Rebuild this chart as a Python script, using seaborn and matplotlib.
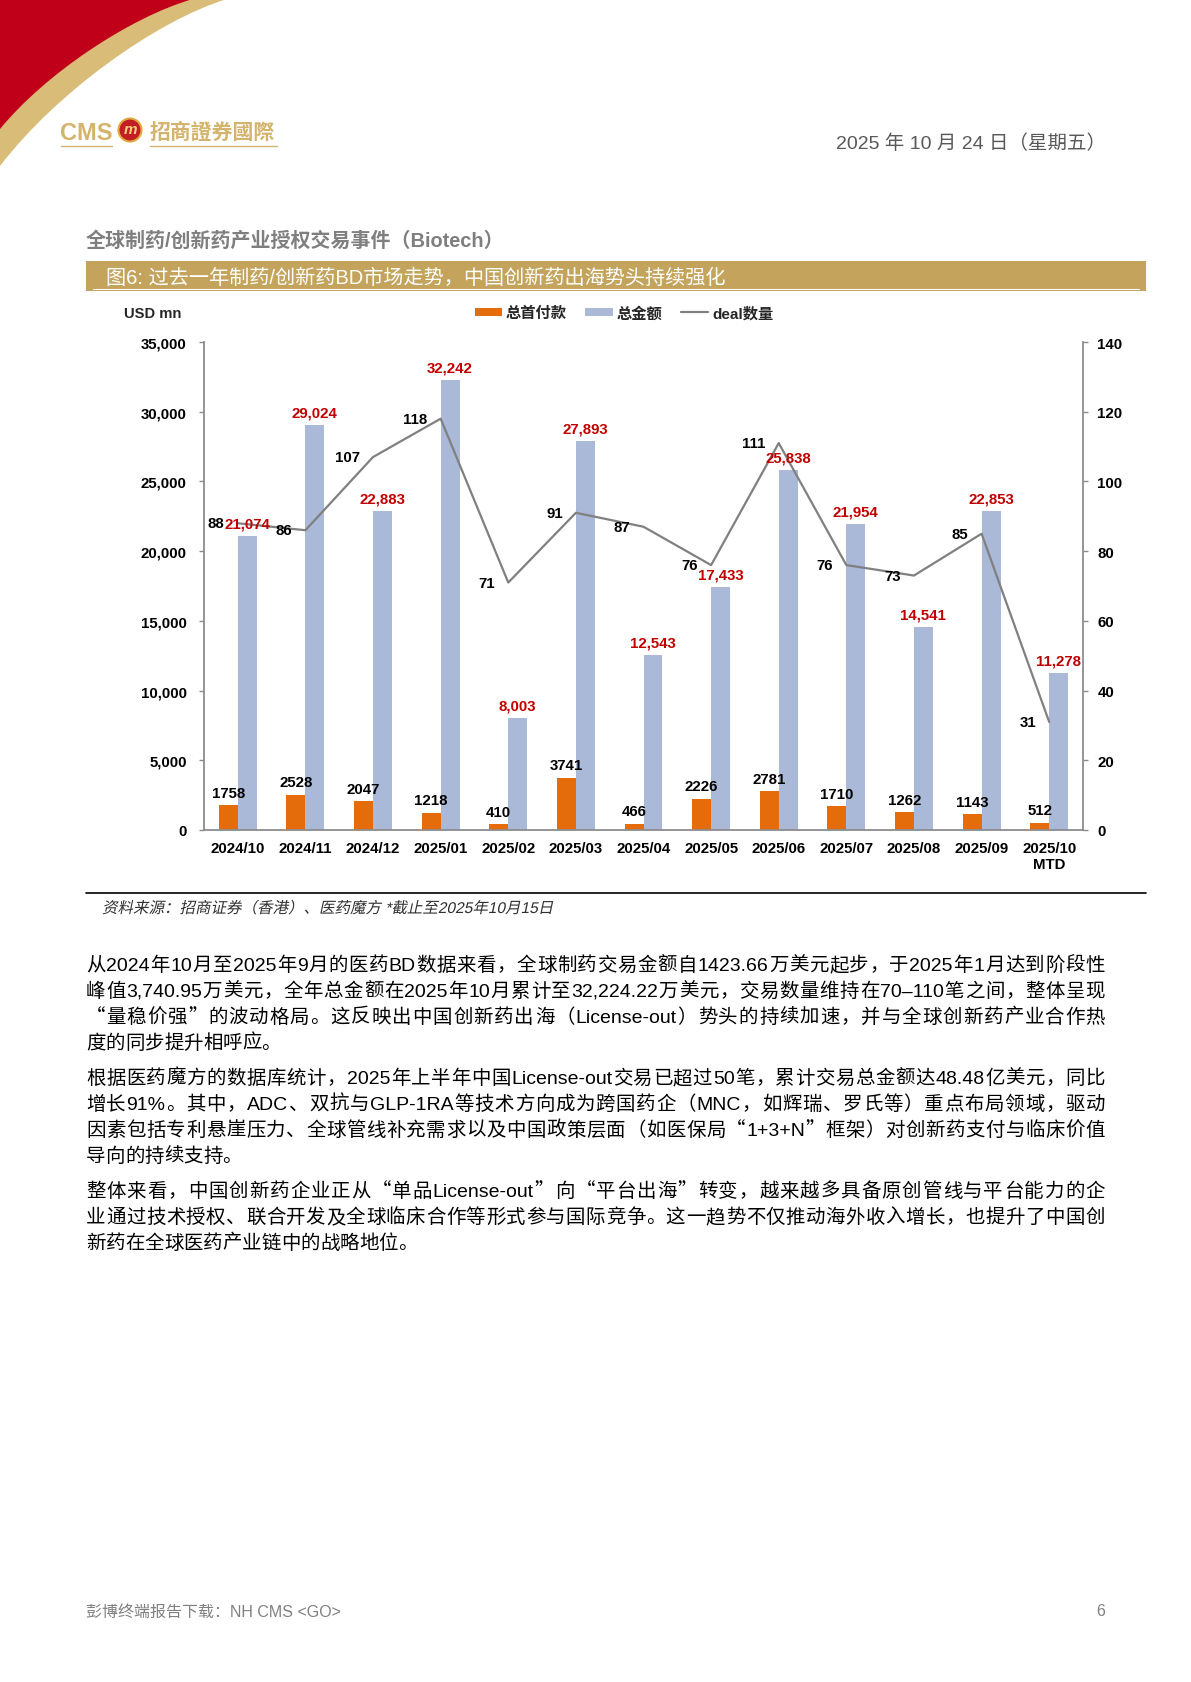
from pathlib import Path

import matplotlib

matplotlib.use("Agg")

import matplotlib.pyplot as plt
import numpy as np
import pandas as pd
import seaborn as sns
from matplotlib.font_manager import FontProperties
from matplotlib.lines import Line2D
from matplotlib.patches import Circle, PathPatch, Rectangle
from matplotlib.path import Path as MPath
from matplotlib.textpath import TextPath
from matplotlib.ticker import StrMethodFormatter
from matplotlib.transforms import Affine2D

OUTPUT_PATH = Path("out.png")
W, H = 1191, 1683

months = [
    "2024/10", "2024/11", "2024/12", "2025/01", "2025/02", "2025/03", "2025/04",
    "2025/05", "2025/06", "2025/07", "2025/08", "2025/09", "2025/10\nMTD",
]
upfront = [1758, 2528, 2047, 1218, 410, 3741, 466, 2226, 2781, 1710, 1262, 1143, 512]
total = [21074, 29024, 22883, 32242, 8003, 27893, 12543, 17433, 25838, 21954, 14541, 22853, 11278]
deals = [88, 86, 107, 118, 71, 91, 87, 76, 111, 76, 73, 85, 31]
series_names = ["总首付款", "总金额", "deal数量"]

paragraphs = [
    [
        "从2024年10月至2025年9月的医药BD数据来看，全球制药交易金额自1423.66万美元起步，于2025年1月达到阶段性",
        "峰值3,740.95万美元，全年总金额在2025年10月累计至32,224.22万美元，交易数量维持在70–110笔之间，整体呈现",
        "“量稳价强”的波动格局。这反映出中国创新药出海（License-out）势头的持续加速，并与全球创新药产业合作热",
        "度的同步提升相呼应。",
    ],
    [
        "根据医药魔方的数据库统计，2025年上半年中国License-out交易已超过50笔，累计交易总金额达48.48亿美元，同比",
        "增长91%。其中，ADC、双抗与GLP-1RA等技术方向成为跨国药企（MNC，如辉瑞、罗氏等）重点布局领域，驱动",
        "因素包括专利悬崖压力、全球管线补充需求以及中国政策层面（如医保局“1+3+N”框架）对创新药支付与临床价值",
        "导向的持续支持。",
    ],
    [
        "整体来看，中国创新药企业正从“单品License-out”向“平台出海”转变，越来越多具备原创管线与平台能力的企",
        "业通过技术授权、联合开发及全球临床合作等形式参与国际竞争。这一趋势不仅推动海外收入增长，也提升了中国创",
        "新药在全球医药产业链中的战略地位。",
    ],
]
source_note = "资料来源：招商证券（香港）、医药魔方 *截止至2025年10月15日"

ORANGE = "#E46C0A"
BLUE = "#A9B9D7"
LINE_GRAY = "#808080"
RED = "#C00000"
GOLD = "#D4B36C"
SPINE = "#8C8C8C"
LATIN = ["Liberation Sans"]
CJK = ["Noto Sans CJK SC"]
BODY_SIZE = 14


def fx(x):
    return x / W


def fy(y):
    return 1 - y / H


def split_units(line):
    # latin runs stay together, every CJK glyph is its own unit
    units, buf = [], ""
    for ch in line:
        if ord(ch) < 128 or ch == "–":
            buf += ch
        else:
            if buf:
                units.append(buf)
                buf = ""
            units.append(ch)
    if buf:
        units.append(buf)
    return units


def draw_paragraphs(fig, page):
    renderer = fig.canvas.get_renderer()
    cache = {}

    def width(s, family):
        key = (s, family[0])
        if key not in cache:
            t = page.text(0, 0, s, fontsize=BODY_SIZE, family=family)
            cache[key] = t.get_window_extent(renderer).width
            t.remove()
        return cache[key]

    def advance(s, family):
        return width("|" + s + "|", family) - width("||", family)

    left, right, step = 86, 1105, 25.9
    starts = [965, 1078, 1191]
    for y0, para in zip(starts, paragraphs):
        for i, line in enumerate(para):
            units = split_units(line)
            fams = [LATIN if (ord(u[0]) < 128 or u[0] == "–") else CJK for u in units]
            advs = [advance(u, f) for u, f in zip(units, fams)]
            last = i == len(para) - 1
            gap = 0 if last else (right - left - sum(advs)) / (len(units) - 1)
            x = left
            y = y0 + i * step + 6
            for u, f, a in zip(units, fams, advs):
                page.text(x, y, u, fontsize=BODY_SIZE, family=f, color="black",
                          ha="left", va="baseline")
                x += a + gap


def draw_oblique(page, x, y, text, size_px, color):
    # slanted text like the word-processor fake italic
    x0 = x
    for unit in split_units(text):
        fam = LATIN if (ord(unit[0]) < 128 or unit[0] == "–") else CJK
        path = TextPath((0, 0), unit, size=size_px, prop=FontProperties(family=fam))
        adv = TextPath((0, 0), "|" + unit + "|", size=size_px, prop=FontProperties(family=fam))
        bars = TextPath((0, 0), "||", size=size_px, prop=FontProperties(family=fam))
        step = (adv.get_extents().width - bars.get_extents().width)
        tr = Affine2D().skew_deg(12, 0).scale(1, -1).translate(x0, y) + page.transData
        page.add_patch(PathPatch(path, facecolor=color, edgecolor="none", transform=tr))
        x0 += step


def main() -> None:
    sns.set_theme(style="white")
    plt.rcParams["font.family"] = ["Liberation Sans", "Noto Sans CJK SC", "DejaVu Sans"]

    fig = plt.figure(figsize=(W / 100, H / 100), dpi=100)
    page = fig.add_axes([0, 0, 1, 1])
    page.set_xlim(0, W)
    page.set_ylim(H, 0)
    page.axis("off")

    # corner swoosh
    gold_path = MPath(
        [(0, 0), (227, 0), (155, 22), (55, 95), (0, 167), (0, 0)],
        [MPath.MOVETO, MPath.LINETO, MPath.CURVE4, MPath.CURVE4, MPath.CURVE4, MPath.CLOSEPOLY],
    )
    red_path = MPath(
        [(0, 0), (193, 0), (130, 18), (45, 75), (0, 130), (0, 0)],
        [MPath.MOVETO, MPath.LINETO, MPath.CURVE4, MPath.CURVE4, MPath.CURVE4, MPath.CLOSEPOLY],
    )
    page.add_patch(PathPatch(gold_path, facecolor="#D9BC78", edgecolor="none"))
    page.add_patch(PathPatch(red_path, facecolor="#C00018", edgecolor="none"))

    # logo
    page.text(60, 133, "CMS", fontsize=17, fontweight="bold", color=GOLD, va="center", ha="left")
    page.plot([61, 112], [147, 147], color=GOLD, lw=1)
    page.add_patch(Circle((130, 131), 11.5, facecolor="#C41E24", edgecolor="#E0A93F", lw=1.5))
    page.text(130, 130, "m", fontsize=11, fontweight="bold", style="italic", color="#F6D27A",
              ha="center", va="center")
    page.text(150, 132, "招商證券國際", fontsize=15, fontweight="bold", color=GOLD,
              family=["Noto Sans CJK TC"], va="center", ha="left")
    page.plot([150, 277], [147, 147], color=GOLD, lw=1)

    page.text(1106, 144, "2025 年 10 月 24 日（星期五）", fontsize=14, color="#595959",
              ha="right", va="center")

    page.text(86, 241, "全球制药/创新药产业授权交易事件（Biotech）", fontsize=14.4,
              fontweight="bold", color="#7F7F7F", ha="left", va="center")

    page.add_patch(Rectangle((86, 262), 1060, 30, facecolor="#C4A45C", edgecolor="none"))
    page.plot([93, 1139], [290, 290], color="white", lw=0.8)
    page.text(106, 278, "图6: 过去一年制药/创新药BD市场走势，中国创新药出海势头持续强化",
              fontsize=14.5, color="white", ha="left", va="center")

    # chart
    ax = fig.add_axes([fx(204), fy(831), fx(1083) - fx(204), (831 - 343) / H])
    bars = pd.DataFrame({
        "month": months * 2,
        "series": [series_names[0]] * len(months) + [series_names[1]] * len(months),
        "value": upfront + total,
    })
    sns.barplot(
        data=bars, x="month", y="value", hue="series", hue_order=series_names[:2],
        palette={series_names[0]: ORANGE, series_names[1]: BLUE},
        width=0.56, gap=0, saturation=1, linewidth=0, legend=False, ax=ax,
    )
    ax.set_ylim(0, 35000)
    ax.set_yticks(np.arange(0, 35001, 5000))
    ax.yaxis.set_major_formatter(StrMethodFormatter("{x:,.0f}"))
    ax.set_xlabel("")
    ax.set_ylabel("")

    ax2 = ax.twinx()
    line_df = pd.DataFrame({"pos": np.arange(len(months)), "deals": deals})
    sns.lineplot(data=line_df, x="pos", y="deals", color=LINE_GRAY, linewidth=1.6, ax=ax2)
    ax2.set_ylim(0, 140)
    ax2.set_yticks(np.arange(0, 141, 20))
    ax2.set_ylabel("")
    ax2.set_xlabel("")
    ax.set_xlim(-0.5, len(months) - 0.5)

    for a in (ax, ax2):
        for side in ("top", "left", "right", "bottom"):
            a.spines[side].set_visible(False)
    for side in ("left", "bottom"):
        ax.spines[side].set_visible(True)
        ax.spines[side].set_color(SPINE)
        ax.spines[side].set_linewidth(1.3)
    ax2.spines["right"].set_visible(True)
    ax2.spines["right"].set_color(SPINE)
    ax2.spines["right"].set_linewidth(1.3)

    ax.set_xticks(np.arange(len(months)))
    ax.set_xticklabels(months)
    ax.set_xticks(np.arange(-0.5, len(months), 1), minor=True)
    ax.tick_params(axis="x", which="major", length=0, pad=8, labelsize=10.8)
    ax.tick_params(axis="x", which="minor", length=3.4, width=1, color=SPINE, direction="out")
    ax.tick_params(axis="y", length=3.4, width=1, color=SPINE, direction="out", pad=9,
                   labelsize=10.8, left=True)
    ax2.tick_params(axis="y", length=3.4, width=1, color=SPINE, direction="out", pad=7,
                    labelsize=10.8, right=True)
    for lbl in ax.get_xticklabels() + ax.get_yticklabels() + ax2.get_yticklabels():
        lbl.set_fontweight("bold")
        lbl.set_color("black")

    for container, color, fmt in zip(ax.containers, ["black", RED], ["{:.0f}", "{:,.0f}"]):
        for bar in container:
            h = bar.get_height()
            ax2.annotate(
                fmt.format(h), xy=(bar.get_x() + bar.get_width() / 2, h),
                xycoords=ax.transData, xytext=(0, 4), textcoords="offset points",
                ha="center", va="bottom", fontsize=10.8, fontweight="bold", color=color,
            )
    for x, v in zip(line_df["pos"], line_df["deals"]):
        ax2.annotate(str(v), xy=(x, v), xytext=(-9.5, 0), textcoords="offset points",
                     ha="right", va="center", fontsize=10.8, fontweight="bold", color="black")

    fig.text(fx(124), fy(314), "USD mn", fontsize=10.6, fontweight="bold", ha="left", va="center")
    handles = [
        Rectangle((0, 0), 1, 1, facecolor=ORANGE, edgecolor="none"),
        Rectangle((0, 0), 1, 1, facecolor=BLUE, edgecolor="none"),
        Line2D([], [], color=LINE_GRAY, lw=1.6),
    ]
    fig.legend(
        handles, series_names, loc="center", bbox_to_anchor=(fx(624), fy(314)), ncol=3,
        frameon=False, prop={"size": 11, "weight": "bold"}, handlelength=1.8,
        handleheight=0.5, handletextpad=0.25, columnspacing=1.2,
    )

    # source
    page.plot([86, 1146], [894, 894], color="black", lw=1.2)
    draw_oblique(page, 102, 914, source_note, 15.5, "#303030")

    draw_paragraphs(fig, page)

    page.text(86, 1612, "彭博终端报告下载：NH CMS <GO>", fontsize=11.5, color="#808080",
              ha="left", va="center")
    page.text(1105, 1612, "6", fontsize=11.5, color="#808080", ha="right", va="center")

    fig.savefig(OUTPUT_PATH, dpi=100)


if __name__ == "__main__":
    main()
